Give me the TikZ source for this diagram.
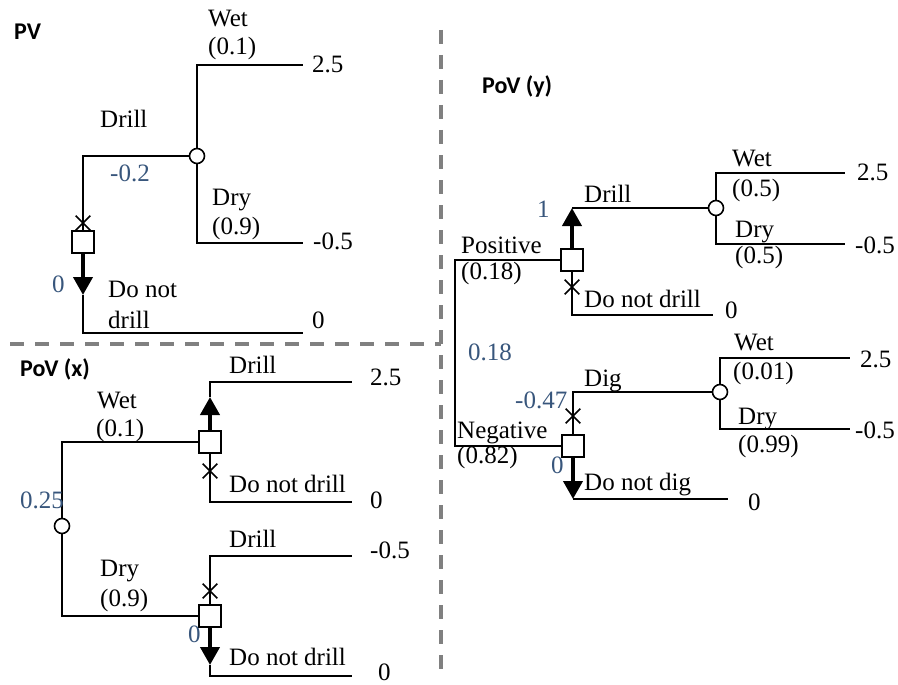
\documentclass[tikz,border=0pt]{standalone}
\usepackage{fontspec}
\setmainfont{Liberation Serif}
\newfontfamily\hdfont{Carlito}
\usetikzlibrary{arrows.meta,shapes.misc}
\definecolor{valblue}{RGB}{56,86,124}
\definecolor{sepgray}{RGB}{128,128,128}
\tikzset{
  tree/.style={line width=1.8pt},
  dec/.style={draw, line width=1.8pt, fill=white, minimum width=22pt, minimum height=22pt, inner sep=0pt},
  chc/.style={draw, circle, line width=1.6pt, fill=white, minimum size=15pt, inner sep=0pt},
  xmark/.style={cross out, draw, line width=1.6pt, minimum size=13pt, inner sep=0pt},
  best/.style={line width=4pt, -{Triangle[length=18pt,width=19pt]}},
  lab/.style={anchor=base west, inner sep=0pt, font=\fontsize{25}{30}\selectfont},
  val/.style={lab, text=valblue},
  sect/.style={anchor=west, inner sep=0pt, font=\fontsize{24}{28}\selectfont\hdfont\bfseries},
  sep/.style={draw=sepgray, line width=3.5pt, dash pattern=on 14pt off 11pt}
}
\begin{document}
\begin{tikzpicture}[x=1pt,y=-1pt]
\useasboundingbox (0,0) rectangle (898,685);
% separators
\coordinate (s1) at (10,344);
\coordinate (s2) at (441,344);
\coordinate (s3) at (441,30);
\coordinate (s4) at (441,670);
\draw[sep] (s1) -- (s2);
\draw[sep] (s3) -- (s4);
% section labels
\node[sect] (hPV) at (14,32) {PV};
\node[sect] (hPx) at (20,369) {PoV (x)};
\node[sect] (hPy) at (482,86) {PoV (y)};

% ===== PV =====
\node[dec] (d1) at (83,242) {};
\node[chc] (c1) at (197,156) {};
\coordinate (d1t) at (83,156);
\coordinate (c1t) at (197,65);
\coordinate (c1b) at (197,243);
\coordinate (e11) at (303,65);
\coordinate (e12) at (303,243);
\coordinate (a1) at (83,295);
\coordinate (d1b) at (83,333);
\coordinate (e13) at (303,333);
\draw[tree] (d1.north) -- (d1t) -- (c1.west);
\draw[tree] (c1.north) -- (c1t) -- (e11);
\draw[tree] (c1.south) -- (c1b) -- (e12);
\draw[best] (d1.south) -- (a1);
\draw[tree] (a1) -- (d1b) -- (e13);
\node[xmark] (x1) at (83,223) {};
\node[lab] (t1) at (208,27) {Wet};
\node[lab] (t2) at (208,55) {(0.1)};
\node[lab] (t3) at (312,73) {2.5};
\node[lab] (t4) at (100,128) {Drill};
\node[val] (t5) at (110,182) {-0.2};
\node[lab] (t6) at (212,205) {Dry};
\node[lab] (t7) at (212,234) {(0.9)};
\node[lab] (t8) at (313,249) {-0.5};
\node[val] (t9) at (52,292) {0};
\node[lab] (t10) at (108,297) {Do not};
\node[lab] (t11) at (108,328) {drill};
\node[lab] (t12) at (312,328) {0};

% ===== PoV (x) =====
\node[chc] (c2) at (62,526) {};
\node[dec] (d2) at (210,442) {};
\node[dec] (d3) at (210,616) {};
\coordinate (c2t) at (62,442);
\coordinate (c2b) at (62,616);
\draw[tree] (c2.north) -- (c2t) -- (d2.west);
\draw[tree] (c2.south) -- (c2b) -- (d3.west);
\coordinate (a2) at (210,397);
\coordinate (d2t) at (210,382);
\coordinate (e21) at (352,382);
\coordinate (d2b) at (210,502);
\coordinate (e22) at (352,502);
\draw[best] (d2.north) -- (a2);
\draw[tree] (a2) -- (d2t) -- (e21);
\draw[tree] (d2.south) -- (d2b) -- (e22);
\node[xmark] (x2) at (210,471) {};
\coordinate (d3t) at (210,556);
\coordinate (e23) at (352,556);
\coordinate (a3) at (210,665);
\coordinate (d3b) at (210,676);
\coordinate (e24) at (352,676);
\draw[tree] (d3.north) -- (d3t) -- (e23);
\draw[best] (d3.south) -- (a3);
\draw[tree] (a3) -- (d3b) -- (e24);
\node[xmark] (x3) at (210,591) {};
\node[lab] (u1) at (229,373) {Drill};
\node[lab] (u2) at (370,385) {2.5};
\node[lab] (u3) at (97,408) {Wet};
\node[lab] (u4) at (96,436) {(0.1)};
\node[lab] (u5) at (229,492) {Do not drill};
\node[lab] (u6) at (370,508) {0};
\node[val] (u7) at (20,508) {0.25};
\node[lab] (u8) at (229,547) {Drill};
\node[lab] (u9) at (370,558) {-0.5};
\node[lab] (u10) at (100,576) {Dry};
\node[lab] (u11) at (100,606) {(0.9)};
\node[val] (u12) at (188,642) {0};
\node[lab] (u13) at (229,665) {Do not drill};
\node[lab] (u14) at (378,680) {0};

% ===== PoV (y) =====
\node[dec] (d4) at (572,260) {};
\node[dec] (d5) at (573,446) {};
\node[chc] (c4) at (716,208) {};
\node[chc] (c5) at (720,392) {};
\coordinate (p1) at (455,260);
\coordinate (p2) at (455,446);
\draw[tree] (d4.west) -- (p1) -- (p2) -- (d5.west);
\coordinate (a4) at (572,208);
\draw[best] (d4.north) -- (a4);
\draw[tree] (a4) -- (c4.west);
\coordinate (c4t) at (716,173);
\coordinate (e41) at (845,173);
\coordinate (c4b) at (716,244);
\coordinate (e42) at (845,244);
\draw[tree] (c4.north) -- (c4t) -- (e41);
\draw[tree] (c4.south) -- (c4b) -- (e42);
\coordinate (d4b) at (572,315);
\coordinate (e43) at (713,315);
\draw[tree] (d4.south) -- (d4b) -- (e43);
\node[xmark] (x4) at (572,287) {};
\coordinate (d5t) at (573,392);
\draw[tree] (d5.north) -- (d5t) -- (c5.west);
\node[xmark] (x5) at (573,416) {};
\coordinate (c5t) at (720,358);
\coordinate (e51) at (850,358);
\coordinate (c5b) at (720,429);
\coordinate (e52) at (850,429);
\draw[tree] (c5.north) -- (c5t) -- (e51);
\draw[tree] (c5.south) -- (c5b) -- (e52);
\coordinate (a5) at (573,499);
\coordinate (e53) at (728,499);
\draw[best] (d5.south) -- (a5);
\draw[tree] (a5) -- (e53);
\node[lab] (v1) at (732,167) {Wet};
\node[lab] (v2) at (857,180) {2.5};
\node[lab] (v3) at (732,196) {(0.5)};
\node[lab] (v4) at (584,202) {Drill};
\node[val] (v5) at (537,217) {1};
\node[lab] (v6) at (735,237) {Dry};
\node[lab] (v7) at (855,253) {-0.5};
\node[lab] (v8) at (461,253) {Positive};
\node[lab] (v9) at (735,263) {(0.5)};
\node[lab] (v10) at (461,279) {(0.18)};
\node[lab] (v11) at (584,307) {Do not drill};
\node[lab] (v12) at (725,318) {0};
\node[lab] (w1) at (734,350) {Wet};
\node[lab] (w2) at (860,367) {2.5};
\node[val] (w3) at (468,360) {0.18};
\node[lab] (w4) at (733,379) {(0.01)};
\node[lab] (w5) at (584,386) {Dig};
\node[val] (w6) at (515,408) {-0.47};
\node[lab] (w7) at (738,424) {Dry};
\node[lab] (w8) at (855,438) {-0.5};
\node[lab] (w9) at (457,438) {Negative};
\node[lab] (w10) at (738,452) {(0.99)};
\node[lab] (w11) at (457,463) {(0.82)};
\node[val] (w12) at (551,473) {0};
\node[lab] (w13) at (584,490) {Do not dig};
\node[lab] (w14) at (748,510) {0};
\end{tikzpicture}
\end{document}
